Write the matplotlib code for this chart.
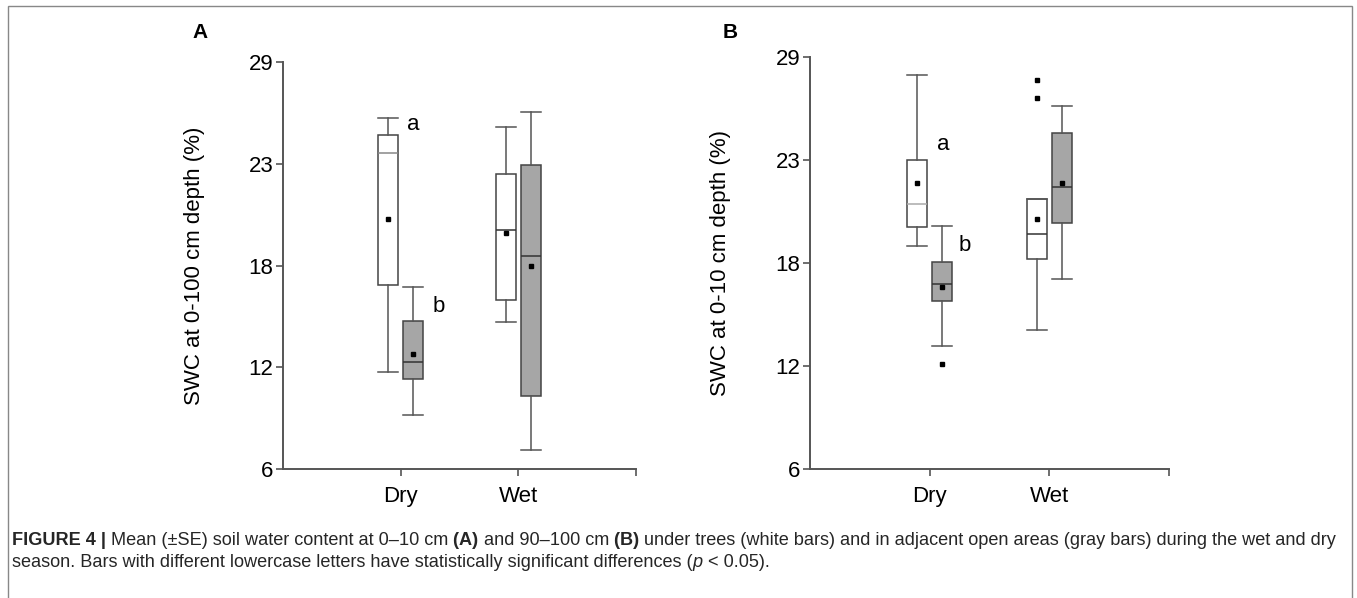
import matplotlib
matplotlib.use('Agg')
import numpy as np
import matplotlib.pyplot as plt
from matplotlib.patches import Rectangle

plt.rcParams['font.family'] = ['Liberation Sans', 'DejaVu Sans']

groups = ['Dry', 'Wet']
ytick_labels = ['6', '12', '18', '23', '29']
# box order: dry-trees, dry-open, wet-trees, wet-open
# panel A (0-100 cm)
a_whislo = [11.5, 9.05, 14.3, 7.05]
a_q1 = [16.4, 11.1, 15.55, 10.1]
a_med = [23.85, 12.05, 19.5, 18.05]
a_q3 = [24.85, 14.35, 22.65, 23.2]
a_whishi = [25.85, 16.3, 25.35, 26.2]
a_mean = [20.15, 12.5, 19.35, 17.5]
a_fliers = [[], [], [], []]
a_letters = ['a', 'b']
a_letter_x = [1.11, 1.32]
a_letter_y = [25.45, 15.2]

# panel B (0-10 cm)
b_whislo = [18.45, 12.85, 13.75, 16.6]
b_q1 = [19.5, 15.4, 17.7, 19.75]
b_med = [20.8, 16.35, 19.1, 21.75]
b_q3 = [23.25, 17.55, 21.1, 24.75]
b_whishi = [28.0, 19.55, 21.1, 26.25]
b_mean = [21.95, 16.15, 19.95, 21.95]
b_fliers = [[], [11.85], [27.7, 26.7], []]
b_letters = ['a', 'b']
b_letter_x = [1.11, 1.29]
b_letter_y = [24.1, 18.5]

W, H = 1357, 598
fig = plt.figure(figsize=(W / 100, H / 100), dpi=100)

ax_color = '#555555'
fills = ['white', '#a6a6a6', 'white', '#a6a6a6']
positions = [0.895, 1.105, 1.895, 2.105]


def panel(rect, whislo, q1, med, q3, whishi, mean, fliers, ylabel, letters, lx, ly, light_med):
    ax = fig.add_axes(rect)
    stats = []
    for i in range(4):
        stats.append(dict(whislo=whislo[i], q1=q1[i], med=med[i], q3=q3[i],
                          whishi=whishi[i], mean=mean[i], fliers=fliers[i]))
    bp = ax.bxp(stats, positions=positions, widths=0.17, capwidths=0.17,
                patch_artist=True, showmeans=True,
                boxprops=dict(edgecolor='#444444', linewidth=1.1),
                whiskerprops=dict(color='#555555', linewidth=1.1),
                capprops=dict(color='#555555', linewidth=1.1),
                medianprops=dict(color='#333333', linewidth=1.1),
                meanprops=dict(marker='s', markersize=2.6, markerfacecolor='black',
                               markeredgecolor='black'),
                flierprops=dict(marker='s', markersize=3.4, markerfacecolor='black',
                                markeredgecolor='black', linestyle='none'))
    for patch, c in zip(bp['boxes'], fills):
        patch.set_facecolor(c)
    bp['medians'][0].set_color(light_med)
    for t, x, y in zip(letters, lx, ly):
        ax.text(x, y, t, fontsize=16, ha='center', va='center')
    ax.set_xlim(0, 3)
    ax.set_ylim(6, 29)
    ax.set_xticks([1, 2, 3])
    ax.set_xticklabels(groups + [''])
    ax.set_yticks(np.linspace(6, 29, 5))
    ax.set_yticklabels(ytick_labels)
    for s in ['top', 'right']:
        ax.spines[s].set_visible(False)
    for s in ['left', 'bottom']:
        ax.spines[s].set_color(ax_color)
        ax.spines[s].set_linewidth(1.4)
    ax.tick_params(axis='both', colors=ax_color, labelcolor='black', length=5,
                   width=1.2, labelsize=16)
    ax.tick_params(axis='x', pad=7)
    ax.tick_params(axis='y', pad=2)
    ax.set_ylabel(ylabel, fontsize=16)
    ax.yaxis.set_label_coords(-0.22, 0.5)
    return ax


panel([283 / W, 1 - 469 / H, 353 / W, 407 / H], a_whislo, a_q1, a_med, a_q3, a_whishi,
      a_mean, a_fliers, 'SWC at 0-100 cm depth (%)', a_letters, a_letter_x, a_letter_y, '#888888')
panel([810 / W, 1 - 469 / H, 359 / W, 412 / H], b_whislo, b_q1, b_med, b_q3, b_whishi,
      b_mean, b_fliers, 'SWC at 0-10 cm depth (%)', b_letters, b_letter_x, b_letter_y, '#aaaaaa')

fig.text(200 / W, 1 - 32 / H, 'A', fontsize=15, fontweight='bold', ha='center', va='center')
fig.text(730 / W, 1 - 32 / H, 'B', fontsize=15, fontweight='bold', ha='center', va='center')

# frame around figure
fig.add_artist(Rectangle((8 / W, -0.05), 1344 / W, 1 - 6 / H + 0.05, fill=False,
                         edgecolor='#888888', linewidth=1, transform=fig.transFigure,
                         clip_on=False))

# caption with mixed styles
cap_font = ['Liberation Sans', 'DejaVu Sans']
line1 = [('FIGURE 4 | ', 'bold', 'normal'),
         ('Mean (±SE) soil water content at 0–10 cm ', 'normal', 'normal'),
         ('(A) ', 'bold', 'normal'),
         ('and 90–100 cm ', 'normal', 'normal'),
         ('(B) ', 'bold', 'normal'),
         ('under trees (white bars) and in adjacent open areas (gray bars) during the wet and dry',
          'normal', 'normal')]
line2 = [('season. Bars with different lowercase letters have statistically significant differences (',
          'normal', 'normal'),
         ('p', 'normal', 'italic'),
         (' < 0.05).', 'normal', 'normal')]

renderer = fig.canvas.get_renderer()


def draw_line(segs, x0, y0, size, draw=True):
    x = x0
    arts = []
    for txt, wt, st in segs:
        t = fig.text(x / W, 1 - y0 / H, txt, fontsize=size, fontweight=wt, fontstyle=st,
                     family=cap_font, color='#262626', va='baseline', ha='left')
        w = t.get_window_extent(renderer).width
        arts.append(t)
        x += w
    if not draw:
        for t in arts:
            t.remove()
    return x - x0


w12 = draw_line(line1, 12, 545, 12, draw=False)
size = 12 * 1326 / w12
draw_line(line1, 12, 545, size)
draw_line(line2, 12, 567, size)

fig.savefig('out.png', dpi=100)
